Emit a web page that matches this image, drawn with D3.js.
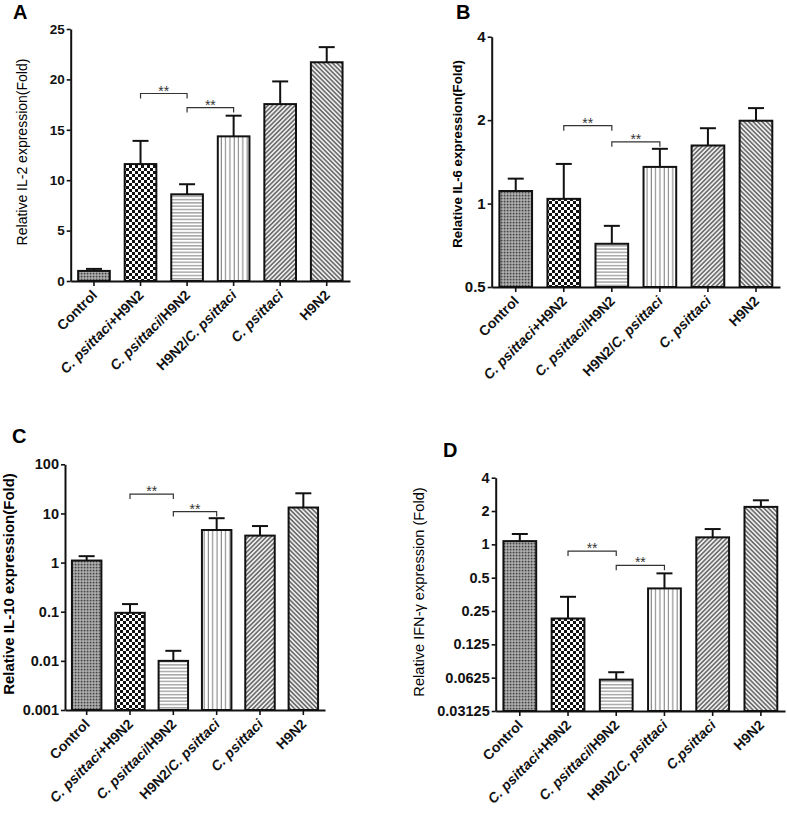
<!DOCTYPE html>
<html>
<head>
<meta charset="utf-8">
<script src="https://cdn.jsdelivr.net/npm/d3@7"></script>
<style>
  body { margin: 0; background: #fff; }
  svg { font-family: "Liberation Sans", Arial, sans-serif; }
</style>
</head>
<body>
<svg id="fig" width="787" height="815"></svg>
<script>
// group names (italic species name is picked out when drawing)
const GROUPS = ['Control', 'C. psittaci+H9N2', 'C. psittaci/H9N2', 'H9N2/C. psittaci', 'C. psittaci', 'H9N2']
const GROUPS_D = ['Control', 'C. psittaci+H9N2', 'C. psittaci/H9N2', 'H9N2/C. psittaci', 'C.psittaci', 'H9N2']

// A: IL-2 (linear)
const il2Mean = [1.0, 11.6, 8.6, 14.35, 17.55, 21.7]
const il2Err  = [0.2, 2.3, 1.0, 2.05, 2.25, 1.5]
const il2Ticks = [0, 5, 10, 15, 20, 25]
const il2Sig = [[1, 2, 18.6], [2, 3, 17.2]]

// B: IL-6 (log2)
const il6Mean = [1.11, 1.04, 0.716, 1.356, 1.62, 1.99]
const il6Err  = [0.12, 0.35, 0.115, 0.22, 0.25, 0.22]
const il6Ticks = [0.5, 1, 2, 4]
const il6Sig = [[1, 2, 1.91], [2, 3, 1.67]]

// C: IL-10 (log10)
const il10Mean = [1.1, 0.095, 0.010, 4.6, 3.54, 13.2]
const il10Err  = [0.25, 0.048, 0.006, 3.4, 2.0, 12.5]
const il10Ticks = [0.001, 0.01, 0.1, 1, 10, 100]
const il10Sig = [[1, 2, 24.8], [2, 3, 10.9]]

// D: IFN-gamma (log2)
const ifnMean = [1.07, 0.214, 0.060, 0.40, 1.157, 2.18]
const ifnErr  = [0.17, 0.122, 0.010, 0.147, 0.218, 0.32]
const ifnTicks = [0.03125, 0.0625, 0.125, 0.25, 0.5, 1, 2, 4]
const ifnSig = [[1, 2, 0.87], [2, 3, 0.646]]

const PANELS = [
  { letter: 'A', lx: 13, ly: 19, mean: il2Mean, err: il2Err, ticks: il2Ticks, sig: il2Sig, groups: GROUPS,
    scale: () => d3.scaleLinear().domain([0, 25]),
    x0: 70.7, x1: 350, y0: 281, y1: 29, tickFont: 13.5,
    title: 'Relative IL-2 expression(Fold)', tBold: false, tSize: 14, tx: 22, ty: 152 },
  { letter: 'B', lx: 456, ly: 19, mean: il6Mean, err: il6Err, ticks: il6Ticks, sig: il6Sig, groups: GROUPS,
    scale: () => d3.scaleLog().base(2).domain([0.5, 4]),
    x0: 491.7, x1: 780, y0: 287, y1: 36.7, tickFont: 15,
    title: 'Relative IL-6 expression(Fold)', tBold: true, tSize: 13.2, tx: 457, ty: 154 },
  { letter: 'C', lx: 12, ly: 443, mean: il10Mean, err: il10Err, ticks: il10Ticks, sig: il10Sig, groups: GROUPS,
    scale: () => d3.scaleLog().base(10).domain([0.001, 100]),
    x0: 65, x1: 325, y0: 710, y1: 464.3, tickFont: 14.5,
    title: 'Relative IL-10 expression(Fold)', tBold: true, tSize: 15, tx: 9, ty: 584 },
  { letter: 'D', lx: 443, ly: 457, mean: ifnMean, err: ifnErr, ticks: ifnTicks, sig: ifnSig, groups: GROUPS_D,
    scale: () => d3.scaleLog().base(2).domain([0.03125, 4]),
    x0: 495.7, x1: 785, y0: 711, y1: 477.7, tickFont: 14.5,
    title: 'Relative IFN-\u03b3 expression (Fold)', tBold: false, tSize: 14.6, tx: 419, ty: 592 },
]

const svg = d3.select('#fig')
const defs = svg.append('defs')

// fill patterns, one per group
function pattern(id, w, h, rot){
  const p = defs.append('pattern').attr('id', id)
    .attr('patternUnits', 'userSpaceOnUse').attr('width', w).attr('height', h)
  if(rot) p.attr('patternTransform', 'rotate(' + rot + ')')
  return p
}
let p = pattern('pat0', 3, 3)
p.append('rect').attr('width', 3).attr('height', 3).attr('fill', '#8e8e8e')
p.append('rect').attr('width', 1.2).attr('height', 1.2).attr('fill', '#454545')
p.append('rect').attr('x', 1.5).attr('y', 1.5).attr('width', 1.2).attr('height', 1.2).attr('fill', '#d6d6d6')

p = pattern('pat1', 6, 6)
p.append('rect').attr('width', 6).attr('height', 6).attr('fill', '#fff')
p.append('rect').attr('width', 3).attr('height', 3).attr('fill', '#111')
p.append('rect').attr('x', 3).attr('y', 3).attr('width', 3).attr('height', 3).attr('fill', '#111')

p = pattern('pat2', 4, 3.3)
p.append('rect').attr('width', 4).attr('height', 3.3).attr('fill', '#fff')
p.append('line').attr('x1', 0).attr('x2', 4).attr('y1', 1.6).attr('y2', 1.6).attr('stroke', '#7a7a7a').attr('stroke-width', 1)

p = pattern('pat3', 4.3, 4)
p.append('rect').attr('width', 4.3).attr('height', 4).attr('fill', '#fff')
p.append('line').attr('x1', 2).attr('x2', 2).attr('y1', 0).attr('y2', 4).attr('stroke', '#7a7a7a').attr('stroke-width', 1)

p = pattern('pat4', 3.2, 3.2, 45)
p.append('rect').attr('width', 3.2).attr('height', 3.2).attr('fill', '#ececec')
p.append('line').attr('x1', 1.6).attr('x2', 1.6).attr('y1', 0).attr('y2', 3.2).attr('stroke', '#444').attr('stroke-width', 1.2)

p = pattern('pat5', 3.2, 3.2, -45)
p.append('rect').attr('width', 3.2).attr('height', 3.2).attr('fill', '#ececec')
p.append('line').attr('x1', 1.6).attr('x2', 1.6).attr('y1', 0).attr('y2', 3.2).attr('stroke', '#444').attr('stroke-width', 1.2)

function drawPanel(cfg){
  const g = svg.append('g')
  const x = d3.scaleBand().domain(d3.range(6)).range([cfg.x0, cfg.x1]).padding(0)
  const y = cfg.scale().range([cfg.y0, cfg.y1])
  const bw = x.bandwidth() * 0.68
  const cx = i => x(i) + x.bandwidth() / 2

  // panel letter
  g.append('text').text(cfg.letter)
    .attr('x', cfg.lx).attr('y', cfg.ly)
    .attr('font-size', 20).attr('font-weight', 'bold')

  // y title
  g.append('text').text(cfg.title)
    .attr('transform', 'translate(' + (cfg.tx + 5) + ',' + cfg.ty + ') rotate(-90)')
    .attr('text-anchor', 'middle')
    .attr('font-size', cfg.tSize)
    .attr('font-weight', cfg.tBold ? 'bold' : 'normal')

  // error bars (one sided, upward)
  const eb = g.append('g').attr('stroke', '#111').attr('stroke-width', 2).attr('fill', 'none')
  cfg.mean.forEach((m, i) => {
    const top = y(m + cfg.err[i])
    eb.append('line').attr('x1', cx(i)).attr('x2', cx(i)).attr('y1', y(m)).attr('y2', top)
    eb.append('line').attr('x1', cx(i) - 8).attr('x2', cx(i) + 8).attr('y1', top).attr('y2', top)
  })

  // bars
  g.append('g').selectAll('rect').data(cfg.mean)
    .enter().append('rect')
      .attr('x', (d, i) => cx(i) - bw / 2)
      .attr('y', d => y(d))
      .attr('width', bw)
      .attr('height', d => cfg.y0 - y(d))
      .attr('fill', (d, i) => 'url(#pat' + i + ')')
      .attr('stroke', '#111')
      .attr('stroke-width', 2)

  // axes
  const ya = g.append('g').attr('transform', 'translate(' + cfg.x0 + ',0)')
    .call(d3.axisLeft(y).tickValues(cfg.ticks).tickFormat(d => String(d)).tickSize(4).tickPadding(2).tickSizeOuter(0))
  const xa = g.append('g').attr('transform', 'translate(0,' + cfg.y0 + ')')
    .call(d3.axisBottom(x).tickSize(5).tickSizeOuter(0).tickFormat(''))
  for(const a of [ya, xa]){
    a.select('.domain').attr('stroke', '#111').attr('stroke-width', 2)
    a.selectAll('.tick line').attr('stroke', '#111').attr('stroke-width', 1.6)
  }
  ya.selectAll('text')
    .attr('font-family', '"Liberation Sans", Arial, sans-serif')
    .attr('font-size', cfg.tickFont).attr('font-weight', 'bold').attr('fill', '#111')

  // rotated group labels, species name in italics
  cfg.groups.forEach((name, i) => {
    const t = g.append('text')
      .attr('transform', 'translate(' + (cx(i) + 4) + ',' + (cfg.y0 + 15) + ') rotate(-45)')
      .attr('text-anchor', 'end')
      .attr('font-size', 14).attr('font-weight', 'bold').attr('fill', '#111')
    name.split(/(C\. ?psittaci)/).filter(s => s).forEach(s => {
      t.append('tspan').text(s).attr('font-style', /psittaci/.test(s) ? 'italic' : 'normal')
    })
  })

  // significance brackets
  const sg = g.append('g')
  cfg.sig.forEach(([a, b, v]) => {
    const yy = y(v)
    sg.append('path')
      .attr('d', 'M' + cx(a) + ',' + (yy + 5) + 'V' + yy + 'H' + cx(b) + 'V' + (yy + 5))
      .attr('fill', 'none').attr('stroke', '#333').attr('stroke-width', 1.2)
    sg.append('text').text('**')
      .attr('x', (cx(a) + cx(b)) / 2).attr('y', yy + 2)
      .attr('text-anchor', 'middle').attr('font-size', 14).attr('fill', '#333')
  })
}

PANELS.forEach(drawPanel)
</script>
</body>
</html>
